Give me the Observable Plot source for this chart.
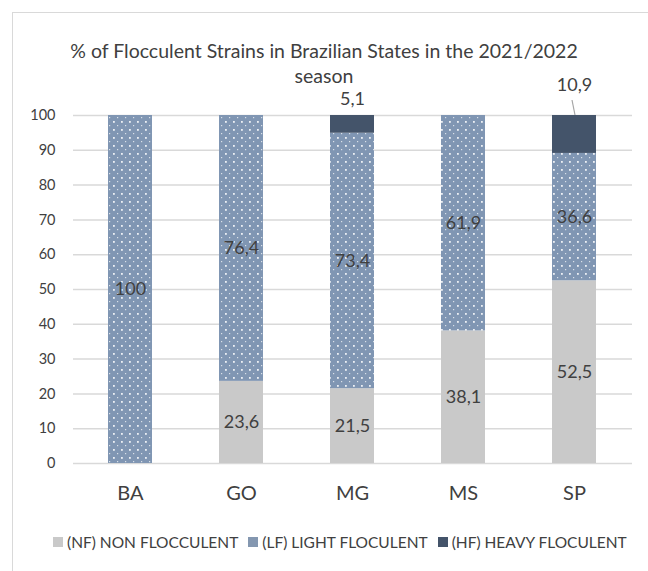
<!DOCTYPE html>
<html>
<head>
<meta charset="utf-8">
<script src="https://cdn.jsdelivr.net/npm/d3@7"></script>
<script src="https://cdn.jsdelivr.net/npm/@observablehq/plot@0.6"></script>
<style>
  html, body { margin: 0; padding: 0; background: #fff; }
  #wrap { position: relative; width: 648px; height: 571px; overflow: hidden; font-family: Lato, "Open Sans", sans-serif; }
  #wrap svg { position: absolute; left: 0; top: 0; }
  #frame { position: absolute; left: 12px; top: 12px; width: 700px; height: 700px; border-left: 1.5px solid #d9d9d9; border-top: 1.5px solid #d9d9d9; pointer-events: none; }
  #title { position: absolute; left: 0; top: 38px; width: 648px; text-align: center; font-size: 19.5px; line-height: 25px; color: #404040; }
  #legend { position: absolute; left: 53px; top: 533px; display: flex; align-items: center; font-size: 15.5px; color: #404040; white-space: nowrap; }
  #legend .item { display: flex; align-items: center; margin-right: 10px; }
  #legend .sw { width: 10px; height: 10px; margin-right: 4px; }
</style>
</head>
<body>
<div id="wrap">
  <div id="frame"></div>
  <div id="title"></div>
  <div id="legend"></div>
</div>
<script>
// ---- data ----
const states = ["BA", "GO", "MG", "MS", "SP"];
const nonFlocculent = [0, 23.6, 21.5, 38.1, 52.5];
const lightFlocculent = [100, 76.4, 73.4, 61.9, 36.6];
const heavyFlocculent = [0, 0, 5.1, 0, 10.9];
const seriesNames = ["(NF) NON FLOCCULENT", "(LF) LIGHT FLOCULENT", "(HF) HEAVY FLOCULENT"];
const yTicks = [0, 10, 20, 30, 40, 50, 60, 70, 80, 90, 100];
const titleLines = ["% of Flocculent Strains in Brazilian States in the 2021/2022", "season"];

// ---- styles ----
const colors = ["#c9c9c9", "url(#lfdots)", "#44546a"];
const swatchColors = ["#c9c9c9", "#8497b0", "#44546a"];
const hfLabelOffset = {MG: -16, SP: -30};

// build stacked table
const seriesValues = [nonFlocculent, lightFlocculent, heavyFlocculent];
const rows = [];
states.forEach((s, i) => {
  let base = 0;
  seriesValues.forEach((vals, k) => {
    const v = vals[i];
    rows.push({state: s, series: k, value: v, y1: base, y2: base + v});
    base += v;
  });
});
const fmt = v => String(v).replace(".", ",");

const midLabels = rows.filter(d => d.value > 0 && d.series < 2);
const hfLabels = rows.filter(d => d.value > 0 && d.series === 2);

const leader = (index, scales, values, dims, context) => {
  const g = d3.create("svg:g");
  const x = scales.x("SP") + scales.x.bandwidth() / 2;
  const yTop = scales.y(100);
  g.append("line")
    .attr("x1", x - 2).attr("y1", yTop - 15)
    .attr("x2", x + 1).attr("y2", yTop)
    .attr("stroke", "#a6a6a6").attr("stroke-width", 1.2);
  return g.node();
};

const chart = Plot.plot({
  width: 648,
  height: 571,
  marginTop: 115,
  marginBottom: 108,
  marginLeft: 73,
  marginRight: 16,
  style: {fontFamily: "Lato, 'Open Sans', sans-serif", background: "none", color: "#595959"},
  x: {domain: states, paddingInner: 0.6, paddingOuter: 0.3, label: null},
  y: {domain: [0, 100], label: null},
  marks: [
    Plot.ruleY(yTicks, {stroke: "#d9d9d9", strokeWidth: 1.5}),
    ...[0, 1, 2].map(k => Plot.barY(rows.filter(d => d.series === k && d.value > 0), {
      x: "state", y1: "y1", y2: "y2", fill: colors[k], inset: 0
    })),
    Plot.text(midLabels, {
      x: "state", y: d => (d.y1 + d.y2) / 2, text: d => fmt(d.value),
      fontSize: 18, fill: "#404040", lineAnchor: "middle"
    }),
    ...hfLabels.map(d => Plot.text([d], {
      x: "state", y: "y2", text: r => fmt(r.value),
      fontSize: 18, fill: "#404040", lineAnchor: "middle",
      dy: hfLabelOffset[d.state] || -18
    })),
    leader,
    Plot.axisY(yTicks, {tickSize: 0, tickPadding: 18, fontSize: 14.5, fill: "#404040"}),
    Plot.axisX({tickSize: 0, tickPadding: 22, fontSize: 20, fill: "#404040"})
  ]
});

// pattern defs
const svg = d3.select(chart);
const defs = svg.insert("defs", ":first-child");
const pat = defs.append("pattern").attr("id", "lfdots")
  .attr("patternUnits", "userSpaceOnUse").attr("width", 8).attr("height", 8);
pat.append("rect").attr("width", 8).attr("height", 8).attr("fill", "#8096b3");
pat.append("rect").attr("x", 1).attr("y", 1).attr("width", 1.8).attr("height", 1.8).attr("fill", "#ffffff").attr("opacity", 0.85);
pat.append("rect").attr("x", 5).attr("y", 5).attr("width", 1.2).attr("height", 1.2).attr("fill", "#ffffff").attr("opacity", 0.7);

const wrap = document.getElementById("wrap");
wrap.insertBefore(chart, wrap.firstChild);

document.getElementById("title").innerHTML = titleLines.map(t => `<div>${t}</div>`).join("");
document.getElementById("legend").innerHTML = seriesNames.map((n, k) =>
  `<div class="item"><div class="sw" style="background:${swatchColors[k]}"></div><span>${n}</span></div>`).join("");
</script>
</body>
</html>
